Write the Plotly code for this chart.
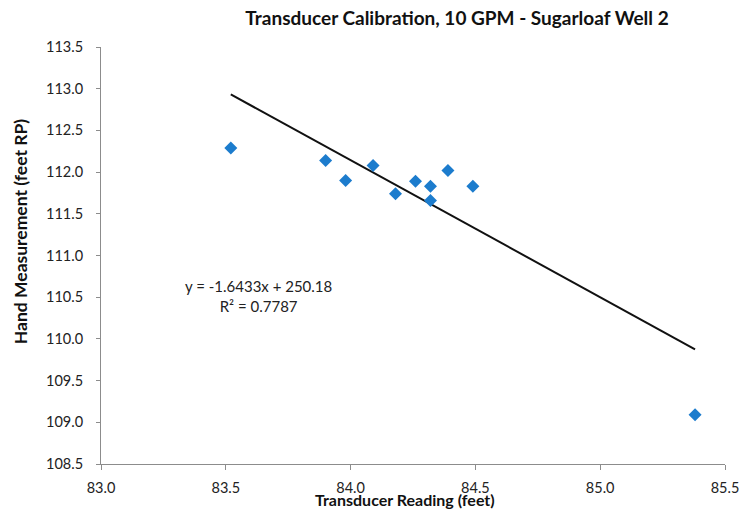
import plotly.graph_objects as go

# Data
transducer_ft = [83.52, 83.90, 83.98, 84.09, 84.18, 84.26, 84.32, 84.32, 84.39, 84.49, 85.38]
hand_ft = [112.29, 112.14, 111.90, 112.08, 111.74, 111.89, 111.83, 111.66, 112.02, 111.83, 109.09]

slope = -1.6433
intercept = 250.18
r_squared = 0.7787

x_ticks = [83.0, 83.5, 84.0, 84.5, 85.0, 85.5]
y_ticks = [108.5, 109.0, 109.5, 110.0, 110.5, 111.0, 111.5, 112.0, 112.5, 113.0, 113.5]

FONT = "Lato, 'Open Sans', sans-serif"

fig = go.Figure()

trend_x = [min(transducer_ft), max(transducer_ft)]
trend_y = [slope * v + intercept for v in trend_x]
fig.add_trace(go.Scatter(x=trend_x, y=trend_y, mode="lines",
                         line=dict(color="#111111", width=2), showlegend=False,
                         hoverinfo="skip"))

fig.add_trace(go.Scatter(x=transducer_ft, y=hand_ft, mode="markers",
                         marker=dict(symbol="diamond", size=10, color="#1c7ccd"),
                         showlegend=False))

# page body has an 8px default margin, so the figure is 8px smaller
fig.update_layout(
    width=739, height=508,
    margin=dict(l=93, r=22, t=39, b=52),
    paper_bgcolor="white", plot_bgcolor="white",
    font=dict(family=FONT, size=14, color="#222222"),
    title=dict(text="<b>Transducer Calibration, 10 GPM - Sugarloaf Well 2</b>",
               x=0.6076, xanchor="center", y=0.979, yanchor="middle",
               font=dict(family=FONT, size=19, color="#111111")),
    xaxis=dict(range=[83.0, 85.5], tickvals=x_ticks,
               ticktext=[f"{v:.1f}" for v in x_ticks], automargin=False,
               showgrid=False, zeroline=False, showline=True,
               linecolor="#8c8c8c", linewidth=1, ticks="outside",
               ticklen=5, tickcolor="#8c8c8c", ticklabelstandoff=6,
               tickfont=dict(size=14.5)),
    yaxis=dict(range=[108.5, 113.5], tickvals=y_ticks,
               ticktext=[f"{v:.1f}" for v in y_ticks], automargin=False,
               showgrid=False, zeroline=False, showline=True,
               linecolor="#8c8c8c", linewidth=1, ticks="outside",
               ticklen=4, tickcolor="#8c8c8c", ticklabelstandoff=10,
               tickfont=dict(size=14.5)),
)

fig.add_annotation(xref="paper", yref="paper", x=0.487, y=0, yshift=-35,
                   text="<b>Transducer Reading (feet)</b>", showarrow=False,
                   xanchor="center", yanchor="middle",
                   font=dict(family=FONT, size=16, color="#111111"))
fig.add_annotation(xref="paper", yref="paper", x=0, y=0.556, xshift=-81,
                   text="<b>Hand Measurement (feet RP)</b>", showarrow=False,
                   textangle=-90, xanchor="center", yanchor="middle",
                   font=dict(family=FONT, size=17.5, color="#111111"))

fig.add_annotation(x=83.63, y=110.51, xref="x", yref="y",
                   text=f"y = {slope}x + {intercept}<br>R² = {r_squared}",
                   showarrow=False, align="center", xanchor="center", yanchor="middle",
                   font=dict(family=FONT, size=15, color="#222222"))

fig.write_html("out.html")
